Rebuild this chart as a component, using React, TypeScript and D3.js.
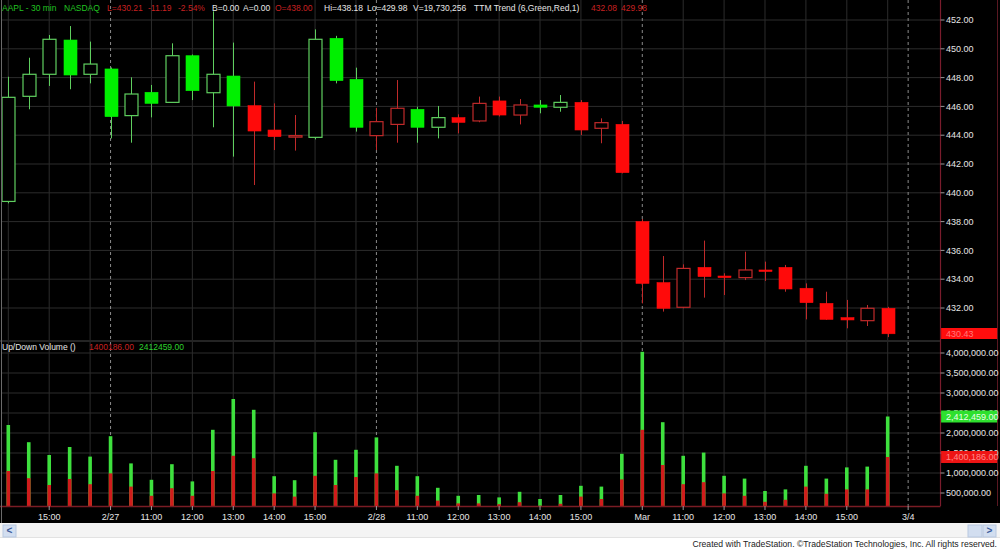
import React from "react";
import * as d3 from "d3";

// ---- Data (30-min AAPL bars, 2/26 14:00 .. 3/1 16:00) ----
const opens = [439.4, 446.7, 448.23, 450.61, 448.23, 448.6, 445.36, 446.98, 446.28, 449.52, 446.95, 448.11, 446.05, 444.36, 443.92, 443.85, 450.73, 447.88, 443.97, 444.75, 445.8, 444.55, 445.22, 444.99, 446.38, 445.4, 446.1, 445.94, 446.28, 444.48, 444.75, 438.0, 433.76, 432.05, 434.82, 434.22, 434.11, 434.64, 434.82, 433.37, 432.32, 431.33, 431.12, 431.98];
const highs = [448.06, 449.38, 450.96, 451.58, 450.5, 448.7, 448.02, 447.49, 450.38, 449.6, 452.6, 450.43, 447.72, 446.21, 445.4, 451.35, 450.9, 448.69, 445.9, 447.83, 445.98, 446.03, 445.45, 446.68, 446.68, 446.51, 446.44, 446.79, 446.44, 445.17, 444.99, 438.18, 435.61, 435.03, 436.68, 434.41, 435.91, 435.22, 434.99, 433.71, 433.13, 432.56, 432.21, 432.08];
const lows = [439.27, 445.8, 447.42, 447.19, 447.6, 443.78, 443.48, 445.24, 446.28, 446.44, 444.55, 442.51, 440.54, 442.97, 442.93, 443.71, 447.6, 444.25, 442.97, 443.48, 443.48, 443.78, 444.13, 444.9, 445.3, 444.75, 445.52, 445.63, 444.01, 443.44, 441.35, 432.32, 431.75, 431.98, 432.72, 432.9, 433.94, 433.88, 433.13, 431.21, 431.17, 430.59, 430.75, 429.98];
const closes = [446.63, 448.23, 450.66, 448.18, 448.94, 445.29, 446.86, 446.21, 449.52, 447.09, 448.23, 446.03, 444.29, 443.9, 443.97, 450.66, 447.79, 444.55, 444.94, 445.87, 444.55, 445.22, 444.89, 446.21, 445.4, 446.1, 445.94, 446.28, 444.36, 444.87, 441.4, 433.71, 431.98, 434.75, 434.18, 434.11, 434.64, 434.58, 433.32, 432.37, 431.21, 431.17, 431.98, 430.21];
// TTM Trend colour per bar
const trend = ["G","G","G","G","G","G","G","G","G","G","G","G","R","R","R","G","G","G","R","R","G","G","R","R","R","R","G","G","R","R","R","R","R","R","R","R","R","R","R","R","R","R","R","R"];
// Up/Down volume plots
const upVolume = [2200000, 1770000, 1450000, 1650000, 1410000, 1920000, 1240000, 830000, 1220000, 790000, 2080000, 2850000, 2580000, 920000, 820000, 2020000, 1330000, 1580000, 1890000, 1180000, 920000, 630000, 430000, 450000, 390000, 530000, 350000, 450000, 680000, 660000, 1480000, 4030000, 2270000, 1430000, 1510000, 930000, 860000, 550000, 590000, 1180000, 860000, 1140000, 1160000, 2412459];
const downVolume = [1050000, 870000, 700000, 850000, 720000, 990000, 660000, 430000, 620000, 430000, 1050000, 1430000, 1370000, 490000, 410000, 930000, 700000, 900000, 990000, 570000, 430000, 310000, 240000, 240000, 220000, 270000, 180000, 230000, 410000, 350000, 840000, 2080000, 1200000, 720000, 770000, 490000, 430000, 280000, 330000, 660000, 480000, 590000, 590000, 1400186];

// Axis ticks
const priceTicks = [452, 450, 448, 446, 444, 442, 440, 438, 436, 434, 432];
const volumeTicks = [4000000, 3500000, 3000000, 2500000, 2000000, 1500000, 1000000, 500000];
const timeTickIndex = [2, 5, 7, 9, 11, 13, 15, 18, 20, 22, 24, 26, 28, 31, 33, 35, 37, 39, 41, 44];
const timeTickLabels = ["15:00", "2/27", "11:00", "12:00", "13:00", "14:00", "15:00", "2/28", "11:00", "12:00", "13:00", "14:00", "15:00", "Mar", "11:00", "12:00", "13:00", "14:00", "15:00", "3/4"];
const hourGridIndex = [0, 2, 4, 7, 9, 11, 13, 15, 17, 20, 22, 24, 26, 28, 30, 33, 35, 37, 39, 41, 43];
const dayBreakIndex = [5, 18, 31, 44];

const FONT = "'Liberation Sans', Arial, sans-serif";
const C_GREEN = "#00f000";
const C_GREEN_LINE = "#5fcf5f";
const C_RED = "#ff0a0a";
const C_RED_LINE = "#c02a2a";

export default function App() {
  const W = 1000, H = 549;
  const axisX = 940.5;
  const x = d3.scaleLinear().domain([0, 43]).range([8.3, 887.7]);
  const yP = d3.scaleLinear().domain([432, 452]).range([308, 20]);
  const yV = d3.scaleLinear().domain([0, 4000000]).range([513, 353]);
  const priceTop = 0, priceBottom = 340;
  const volTop = 342, volBottom = 506;
  const bodyW = 13;
  const volW = 3.6;
  const fmtVol = d3.format(",.2f");

  const header: [string, number, string][] = [
    ["AAPL - 30 min", 2, "#21c421"],
    ["NASDAQ", 64, "#21c421"],
    ["L=430.21", 107, "#c82020"],
    ["-11.19", 148, "#c82020"],
    ["-2.54%", 178, "#c82020"],
    ["B=0.00", 212, "#e6e6e6"],
    ["A=0.00", 243, "#e6e6e6"],
    ["O=438.00", 275, "#c82020"],
    ["Hi=438.18", 324, "#e6e6e6"],
    ["Lo=429.98", 367, "#e6e6e6"],
    ["V=19,730,256", 413, "#e6e6e6"],
    ["TTM Trend (6,Green,Red,1)", 474, "#e6e6e6"],
    ["432.08", 591, "#c82020"],
    ["429.98", 621, "#c82020"],
  ];

  return (
    <svg width={W} height={H} style={{ position: "absolute", left: 0, top: 0, display: "block" }} fontFamily={FONT}>
      <rect x={0} y={0} width={W} height={H} fill="#ffffff" />
      <rect x={0} y={0} width={W} height={523} fill="#000000" />
      <defs>
        <clipPath id="priceClip"><rect x={2} y={priceTop} width={axisX - 2} height={priceBottom - priceTop} /></clipPath>
        <clipPath id="volClip"><rect x={2} y={volTop} width={axisX - 2} height={volBottom - volTop} /></clipPath>
      </defs>

      {/* grid */}
      {priceTicks.map((p) => (
        <line key={"pg" + p} x1={2} x2={axisX} y1={yP(p)} y2={yP(p)} stroke="#2c2c2c" strokeWidth={1} />
      ))}
      {volumeTicks.map((v) => (
        <line key={"vg" + v} x1={2} x2={axisX} y1={yV(v)} y2={yV(v)} stroke="#2c2c2c" strokeWidth={1} />
      ))}
      {hourGridIndex.map((i) => (
        <g key={"hg" + i}>
          <line x1={x(i)} x2={x(i)} y1={priceTop} y2={priceBottom} stroke="#2c2c2c" />
          <line x1={x(i)} x2={x(i)} y1={volTop} y2={volBottom} stroke="#2c2c2c" />
        </g>
      ))}
      {dayBreakIndex.map((i) => (
        <g key={"db" + i}>
          <line x1={x(i)} x2={x(i)} y1={priceTop} y2={priceBottom} stroke="#8a8a8a" strokeDasharray="3,3" />
          <line x1={x(i)} x2={x(i)} y1={volTop} y2={volBottom} stroke="#8a8a8a" strokeDasharray="3,3" />
        </g>
      ))}

      {/* panel separator */}
      <line x1={0} x2={axisX} y1={341} y2={341} stroke="#303030" strokeWidth={1.5} />

      {/* candles */}
      <g clipPath="url(#priceClip)">
        {opens.map((o, i) => {
          const c = closes[i];
          const up = c >= o;
          const isG = trend[i] === "G";
          const lineCol = isG ? C_GREEN_LINE : C_RED_LINE;
          const fillCol = isG ? C_GREEN : C_RED;
          const cx = Math.round(x(i)) + 0.5;
          const top = yP(Math.max(o, c));
          const bot = yP(Math.min(o, c));
          const h = Math.max(bot - top, 1.5);
          return (
            <g key={"c" + i}>
              <line x1={cx} x2={cx} y1={yP(highs[i])} y2={yP(lows[i])} stroke={lineCol} strokeWidth={1} />
              {up ? (
                <rect x={cx - bodyW / 2} y={top} width={bodyW} height={h} fill="#000" stroke={lineCol} strokeWidth={1.2} />
              ) : (
                <rect x={cx - bodyW / 2} y={top} width={bodyW} height={h} fill={fillCol} stroke={fillCol} strokeWidth={0.6} />
              )}
            </g>
          );
        })}
      </g>

      {/* volume */}
      <g clipPath="url(#volClip)">
        {upVolume.map((v, i) => (
          <rect key={"uv" + i} x={x(i) - volW / 2} y={yV(v)} width={volW} height={yV(0) - yV(v)} fill="#3ee03e" />
        ))}
        {downVolume.map((v, i) => (
          <rect key={"dv" + i} x={x(i) - volW / 2} y={yV(v)} width={volW} height={yV(0) - yV(v)} fill="#d01c1c" />
        ))}
      </g>
      <line x1={0} x2={axisX} y1={volBottom + 0.5} y2={volBottom + 0.5} stroke="#7a1c24" strokeWidth={1.5} />

      {/* frame lines */}
      <line x1={1.5} x2={1.5} y1={0} y2={523} stroke="#6a6a6a" />
      <line x1={axisX} x2={axisX} y1={0} y2={volBottom} stroke="#7a1c2c" strokeWidth={1.2} />
      <line x1={997.5} x2={997.5} y1={0} y2={volBottom} stroke="#5a1822" strokeWidth={1} />

      {/* price axis */}
      {priceTicks.map((p) => (
        <g key={"pt" + p}>
          <line x1={axisX} x2={axisX + 4} y1={yP(p)} y2={yP(p)} stroke="#9a9a9a" />
          <text x={946} y={yP(p) + 3.2} fontSize={9} fill="#e6e6e6">{p.toFixed(2)}</text>
        </g>
      ))}
      <rect x={axisX + 0.6} y={328} width={56} height={11} fill="#ff0d0d" />
      <text x={946} y={336.6} fontSize={9} fill="#ff7a7a">430.43</text>

      {/* volume axis */}
      {volumeTicks.map((v) => (
        <g key={"vt" + v}>
          <line x1={axisX} x2={axisX + 4} y1={yV(v)} y2={yV(v)} stroke="#9a9a9a" />
          <text x={946} y={yV(v) + 3.2} fontSize={9} fill="#e6e6e6">{fmtVol(v)}</text>
        </g>
      ))}
      <rect x={axisX + 0.6} y={yV(2412459) - 6} width={56} height={12} fill="#2ee02e" />
      <text x={946} y={yV(2412459) + 3.2} fontSize={9} fill="#e8ffe8">{fmtVol(2412459)}</text>
      <rect x={axisX + 0.6} y={yV(1400186) - 6} width={56} height={12} fill="#ee1414" />
      <text x={946} y={yV(1400186) + 3.2} fontSize={9} fill="#ff8a8a">{fmtVol(1400186)}</text>

      {/* time axis */}
      {timeTickIndex.map((i, k) => (
        <g key={"tt" + k}>
          <line x1={x(i)} x2={x(i)} y1={volBottom} y2={volBottom + 4} stroke="#9a9a9a" />
          <text x={x(i)} y={519.5} fontSize={9} fill="#e6e6e6" textAnchor="middle">{timeTickLabels[k]}</text>
        </g>
      ))}

      {/* headers */}
      {header.map(([t, hx, col]) => (
        <text key={t + hx} x={hx} y={11} fontSize={8.5} fill={col}>{t}</text>
      ))}
      <text x={2} y={350} fontSize={8.5} fill="#e6e6e6">Up/Down Volume ()</text>
      <text x={89} y={350} fontSize={8.5} fill="#c82020">1400186.00</text>
      <text x={139} y={350} fontSize={8.5} fill="#2ed22e">2412459.00</text>

      {/* bottom scroll bar strip */}
      <rect x={0} y={523} width={W} height={15} fill="#f4f4f4" />
      <line x1={0} x2={W} y1={537.5} y2={537.5} stroke="#e2e2e2" />
      <rect x={3} y={525} width={13} height={12} fill="#d2def0" stroke="#b8c8e0" />
      <text x={9.5} y={534} fontSize={10} fill="#3a5a9a" textAnchor="middle" fontWeight="bold">&lt;</text>
      <rect x={968} y={525} width={14} height={12} fill="#d2def0" stroke="#b8c8e0" />
      <rect x={983} y={525} width={13} height={12} fill="#d2def0" stroke="#b8c8e0" />
      <text x={989.5} y={534} fontSize={10} fill="#3a5a9a" textAnchor="middle" fontWeight="bold">&gt;</text>

      <text x={997} y={547} fontSize={8.65} fill="#222" textAnchor="end">
        Created with TradeStation. ©TradeStation Technologies, Inc. All rights reserved.
      </text>
    </svg>
  );
}
